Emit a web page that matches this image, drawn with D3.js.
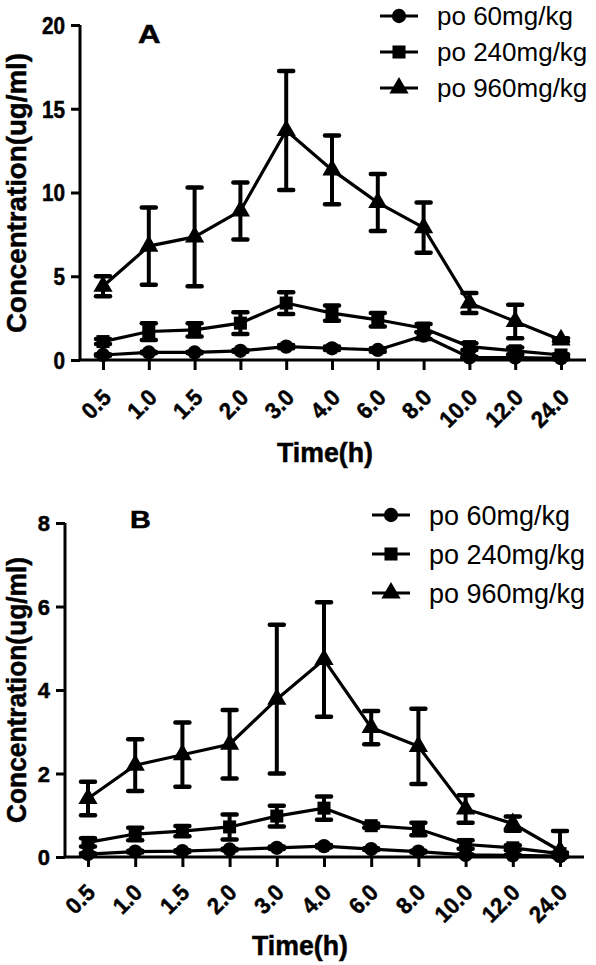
<!DOCTYPE html>
<html><head><meta charset="utf-8">
<script src="https://cdn.jsdelivr.net/npm/d3@7"></script>
<style>body{margin:0;background:#fff}svg{display:block}</style>
</head><body>
<svg id="chart" width="596" height="965"></svg>
<script>
const timeLabels = ["0.5","1.0","1.5","2.0","3.0","4.0","6.0","8.0","10.0","12.0","24.0"];
const seriesNames = ["po 60mg/kg","po 240mg/kg","po 960mg/kg"];
const seriesSymbols = ["circle","square","triangle"];

const a60 = [0.3, 0.45, 0.45, 0.55, 0.8, 0.7, 0.6, 1.45, 0.15, 0.15, 0.1];
const a60Err = [0.05, 0.05, 0.05, 0.05, 0.1, 0.1, 0.1, 0.2, 0.05, 0.05, 0.05];
const a240 = [1.1, 1.7, 1.8, 2.2, 3.4, 2.8, 2.4, 1.9, 0.8, 0.55, 0.3];
const a240Err = [0.15, 0.5, 0.4, 0.65, 0.65, 0.45, 0.4, 0.25, 0.2, 0.2, 0.05];
const a960 = [4.4, 6.8, 7.35, 8.9, 13.7, 11.35, 9.4, 7.9, 3.4, 2.3, 1.2];
const a960Err = [0.6, 2.3, 2.95, 1.7, 3.55, 2.05, 1.7, 1.5, 0.6, 1.0, 0.1];
const aTicks = [0, 5, 10, 15, 20];

const b60 = [0.07, 0.13, 0.14, 0.18, 0.22, 0.26, 0.19, 0.13, 0.05, 0.04, 0.02];
const b60Err = [0.02, 0.02, 0.02, 0.02, 0.03, 0.03, 0.02, 0.02, 0.01, 0.01, 0.01];
const b240 = [0.35, 0.55, 0.62, 0.72, 0.98, 1.17, 0.75, 0.67, 0.3, 0.22, 0.08];
const b240Err = [0.1, 0.15, 0.12, 0.3, 0.25, 0.28, 0.05, 0.15, 0.1, 0.06, 0.03];
const b960 = [1.4, 2.2, 2.45, 2.7, 3.78, 4.73, 3.1, 2.65, 1.15, 0.8, 0.15];
const b960Err = [0.4, 0.62, 0.77, 0.82, 1.78, 1.37, 0.4, 0.9, 0.33, 0.17, 0.47];
const bTicks = [0, 2, 4, 6, 8];

const FONT = "'Liberation Sans', Arial, sans-serif";
const svg = d3.select("#chart");

function symbolPath(kind, size) {
  const t = kind === "circle" ? d3.symbolCircle : kind === "square" ? d3.symbolSquare : d3.symbolTriangle;
  return d3.symbol().type(t).size(size)();
}
function fit(sel, factor) {
  sel.each(function () {
    const w = this.getComputedTextLength();
    d3.select(this).attr("textLength", w * factor).attr("lengthAdjust", "spacingAndGlyphs");
  });
}
function fitTo(sel, width) {
  sel.attr("textLength", width).attr("lengthAdjust", "spacingAndGlyphs");
}
function heavy(sel) {
  sel.attr("stroke", "#000").attr("stroke-width", 0.5).attr("paint-order", "stroke");
}

function drawPanel(cfg) {
  const g = svg.append("g");
  const x = d3.scalePoint().domain(timeLabels).range([cfg.x0, cfg.x1]);
  const y = d3.scaleLinear().domain([0, cfg.ymax]).range([cfg.yBottom, cfg.yTop]).clamp(true);

  const yAxis = g.append("g").attr("transform", `translate(${cfg.axisX},0)`)
    .call(d3.axisLeft(y).tickValues(cfg.ticks).tickSize(9).tickPadding(6).tickFormat(d3.format("d")));
  yAxis.select(".domain").attr("d", `M0,${cfg.yTop}V${cfg.yBottom}`).attr("stroke", "#000").attr("stroke-width", 3);
  yAxis.selectAll(".tick line").attr("stroke", "#000").attr("stroke-width", 3);
  yAxis.selectAll(".tick text").attr("font-family", FONT).attr("font-weight", "bold")
    .attr("font-size", cfg.yTickFont).attr("fill", "#000").attr("dy", "0.36em")
    .call(fit, cfg.yTickFit).call(heavy);

  const xAxis = g.append("g").attr("transform", `translate(0,${cfg.yBottom})`)
    .call(d3.axisBottom(x).tickSize(10).tickPadding(0));
  xAxis.select(".domain").attr("d", `M${cfg.axisX},0H${cfg.axisEnd}`).attr("stroke", "#000").attr("stroke-width", 3);
  xAxis.selectAll(".tick line").attr("stroke", "#000").attr("stroke-width", 3);
  xAxis.selectAll(".tick text").attr("font-family", FONT).attr("font-weight", "bold")
    .attr("font-size", cfg.xTickFont).attr("fill", "#000")
    .attr("text-anchor", "end").attr("dy", null).attr("y", null)
    .attr("transform", `translate(${cfg.xLabDx},${cfg.xLabOff}) rotate(-45)`)
    .call(fit, cfg.xTickFit).call(heavy);

  g.append("text").attr("font-family", FONT).attr("font-weight", "bold").attr("font-size", cfg.titleFont)
    .attr("text-anchor", "middle").attr("transform", `translate(${cfg.ytX},${cfg.ytY}) rotate(-90)`)
    .text("Concentration(ug/ml)").call(fitTo, cfg.ytLen).call(heavy);
  g.append("text").attr("font-family", FONT).attr("font-weight", "bold").attr("font-size", cfg.titleFont)
    .attr("text-anchor", "middle").attr("x", cfg.xtX).attr("y", cfg.xtY)
    .text("Time(h)").call(fitTo, cfg.xtLen).call(heavy);

  // panel letter, slightly widened
  g.append("text").attr("font-family", FONT).attr("font-weight", "bold").attr("font-size", cfg.letterFont)
    .attr("transform", `translate(${cfg.letterX},${cfg.letterY}) scale(${cfg.letterScale},1)`)
    .text(cfg.letter).call(heavy);

  const line = d3.line().x((d, i) => x(timeLabels[i])).y(d => y(d));
  cfg.series.forEach((s, si) => {
    const sg = g.append("g");
    s.v.forEach((v, i) => {
      const cx = x(timeLabels[i]);
      const e = s.e[i];
      const yt = y(v + e), yb = y(v - e);
      sg.append("line").attr("x1", cx).attr("x2", cx).attr("y1", yt).attr("y2", yb)
        .attr("stroke", "#000").attr("stroke-width", 4);
      [yt, yb].forEach(yy => sg.append("line").attr("x1", cx - 7).attr("x2", cx + 7)
        .attr("y1", yy).attr("y2", yy).attr("stroke", "#000").attr("stroke-width", 4.5)
        .attr("stroke-linecap", "round"));
    });
    sg.append("path").attr("d", line(s.v)).attr("fill", "none").attr("stroke", "#000").attr("stroke-width", 3.2);
    s.v.forEach((v, i) => {
      sg.append("path").attr("d", symbolPath(seriesSymbols[si], cfg.symSize[si]))
        .attr("transform", `translate(${x(timeLabels[i])},${y(v)})`).attr("fill", "#000");
    });
  });

  seriesNames.forEach((name, i) => {
    const ly = cfg.legY + i * cfg.legDy;
    g.append("line").attr("x1", cfg.legX).attr("x2", cfg.legX + 38).attr("y1", ly).attr("y2", ly)
      .attr("stroke", "#000").attr("stroke-width", 3);
    g.append("path").attr("d", symbolPath(seriesSymbols[i], cfg.symSize[i]))
      .attr("transform", `translate(${cfg.legX + 19},${ly})`).attr("fill", "#000");
    g.append("text").attr("font-family", FONT).attr("font-size", cfg.legFont)
      .attr("x", cfg.legX + 57).attr("y", ly).attr("dy", "0.36em").text(name);
  });
}

drawPanel({
  letter: "A", letterX: 138, letterY: 43, letterFont: 26, letterScale: 1.2,
  x0: 103, x1: 561, axisX: 80, axisEnd: 586, yTop: 25, yBottom: 360, ymax: 20, ticks: aTicks,
  yTickFont: 23, yTickFit: 0.9, xTickFont: 23, xTickFit: 0.95, xLabDx: 9, xLabOff: 39, titleFont: 28,
  ytX: 26, ytY: 193, ytLen: 280, xtX: 325, xtY: 462, xtLen: 96,
  series: [{v: a60, e: a60Err}, {v: a240, e: a240Err}, {v: a960, e: a960Err}],
  symSize: [160, 170, 160],
  legX: 380, legY: 16, legDy: 36, legFont: 26
});

drawPanel({
  letter: "B", letterX: 130, letterY: 528, letterFont: 24, letterScale: 1.2,
  x0: 88, x1: 560, axisX: 65, axisEnd: 584, yTop: 523, yBottom: 857, ymax: 8, ticks: bTicks,
  yTickFont: 22, yTickFit: 1, xTickFont: 23, xTickFit: 0.95, xLabDx: 8, xLabOff: 37, titleFont: 28,
  ytX: 26, ytY: 690, ytLen: 266, xtX: 300, xtY: 955, xtLen: 96,
  series: [{v: b60, e: b60Err}, {v: b240, e: b240Err}, {v: b960, e: b960Err}],
  symSize: [160, 170, 160],
  legX: 372, legY: 515, legDy: 39, legFont: 27
});
</script>
</body></html>
